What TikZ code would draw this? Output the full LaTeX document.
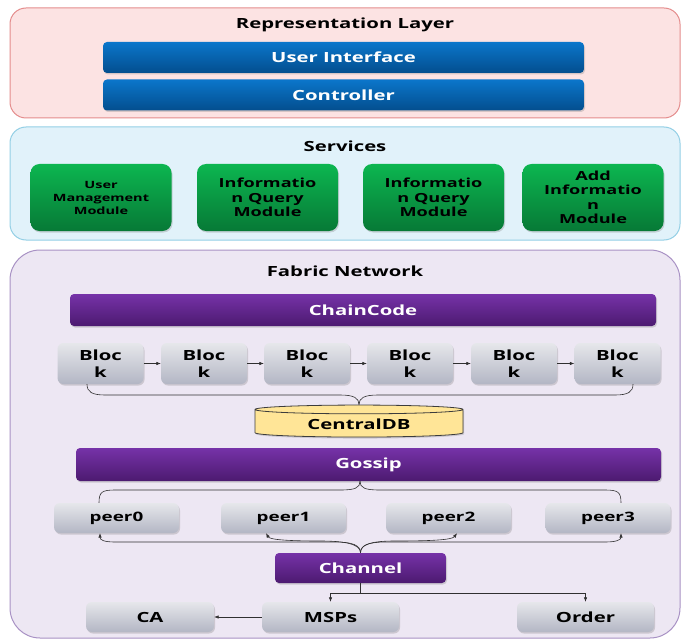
\documentclass[tikz,border=0pt]{standalone}
\usepackage{fontspec}
\newfontfamily\dfont[FakeStretch=1.45]{Open Sans}
\usetikzlibrary{arrows.meta}
\usetikzlibrary{shapes.geometric}
\usetikzlibrary{shadows}
\definecolor{repf}{HTML}{FCE3E3}
\definecolor{repd}{HTML}{E48C8C}
\definecolor{svcf}{HTML}{E1F2FA}
\definecolor{svcd}{HTML}{93CFE5}
\definecolor{fabf}{HTML}{EDE7F3}
\definecolor{fabd}{HTML}{A891C4}
\definecolor{blu1}{HTML}{0B76CB}
\definecolor{blu2}{HTML}{034E8E}
\definecolor{grn1}{HTML}{0CB650}
\definecolor{grn2}{HTML}{077936}
\definecolor{pur1}{HTML}{7632A8}
\definecolor{pur2}{HTML}{4C1A70}
\definecolor{gry1}{HTML}{E6E7EB}
\definecolor{gry2}{HTML}{B3B6C4}
\definecolor{dbf}{HTML}{FFE597}
\definecolor{dbd}{HTML}{3C3C3C}
\definecolor{lnc}{HTML}{303030}
\newcommand\fs[2]{\dfont\bfseries\fontsize{#1}{#2}\selectfont}
\tikzstyle{layer}=[rounded corners=16pt,line width=1pt,minimum width=670pt]
\tikzstyle{ttl}=[font=\fs{14}{17}]
\tikzstyle{shd}=[drop shadow={shadow xshift=1pt,shadow yshift=-1.5pt,opacity=.3}]
\tikzstyle{bar}=[rounded corners=4pt,ttl,text=white,shd]
\tikzstyle{bluebar}=[bar,top color=blu1,bottom color=blu2,minimum width=481pt,minimum height=31pt]
\tikzstyle{purbar}=[bar,top color=pur1,bottom color=pur2]
\tikzstyle{mod}=[rounded corners=9pt,top color=grn1,bottom color=grn2,minimum width=141pt,minimum height=67pt,align=center,font=\fs{12.5}{14.5},shd]
\tikzstyle{blk}=[rounded corners=6pt,top color=gry1,bottom color=gry2,ttl,align=center,shd]
\tikzstyle{ln}=[line width=.6pt,draw=lnc]
\tikzstyle{ar}=[ln,-{Latex[length=4.5pt,width=3.5pt]}]

\begin{document}
\begin{tikzpicture}[x=1pt,y=-1pt]
	\useasboundingbox (0,0) rectangle (682,639);
	% representation layer
	\node[layer,draw=repd,fill=repf,minimum height=110pt] (rep) at (345,63) {};
	\node[ttl] (rept) at (345,25) {Representation Layer};
	\node[bluebar] (ui)  at (343.5,57.5) {User Interface};
	\node[bluebar] (ctl) at (343.5,95)   {Controller};
	% services
	\node[layer,draw=svcd,fill=svcf,minimum height=113pt] (svc) at (345,183.5) {};
	\node[ttl] (svct) at (345,146) {Services};
	\node[mod,font=\fs{10}{13}] (m1) at (101,197.5)   {User\\Management\\Module};
	\node[mod] (m2) at (267.5,197.5) {Informatio\\n Query\\Module};
	\node[mod] (m3) at (433.5,197.5) {Informatio\\n Query\\Module};
	\node[mod] (m4) at (593,197.5)   {Add\\Informatio\\n\\Module};
	% fabric network
	\node[layer,rounded corners=30pt,draw=fabd,fill=fabf,minimum height=388pt] (fab) at (345,444) {};
	\node[ttl] (fabt) at (345,271) {Fabric Network};
	\node[purbar,minimum width=586pt,minimum height=32pt] (cc) at (363,310) {ChainCode};
	\foreach \i/\x in {1/100.5,2/204,3/307,4/410,5/514,6/617.5}
		\node[blk,minimum width=86pt,minimum height=41pt] (b\i) at (\x,363.5) {Bloc\\k};
	\foreach \i/\j in {1/2,2/3,3/4,4/5,5/6}
		\draw[ar] (b\i) -- (b\j);
	\node[cylinder,shape border rotate=90,aspect=0.08,draw=dbd,line width=.8pt,fill=dbf,
		minimum width=208pt,minimum height=32pt,ttl,shd] (db) at (359,424) {CentralDB};
	\draw[ln] ([xshift=-13.5pt]b1.south) .. controls (87,392) and (92,395) .. (105,395) -- (340,395)
		.. controls (354,395) and (359,398) .. (db.north);
	\draw[ln] ([xshift=15.5pt]b6.south) .. controls (633,392) and (628,395) .. (615,395) -- (378,395)
		.. controls (364,395) and (359,398) .. (db.north);
	\node[purbar,minimum width=585pt,minimum height=33pt] (gs) at (368.5,464.5) {Gossip};
	\foreach \i/\x in {0/116.5,1/283.5,2/448.5,3/608}
		\node[blk,font=\fs{13}{15},minimum width=125pt,minimum height=30pt] (p\i) at (\x,518) {peer\i};
	\draw[ln] ([xshift=-8.5pt]gs.south) .. controls (360,488) and (355,490) .. (340,490) -- (115,490)
		.. controls (102,490) and (99,492) .. ([xshift=-17.5pt]p0.north);
	\draw[ln] ([xshift=-8.5pt]gs.south) .. controls (360,488) and (365,490) .. (380,490) -- (605,490)
		.. controls (618,490) and (621,492) .. ([xshift=13pt]p3.north);
	\node[purbar,minimum width=171pt,minimum height=30pt] (ch) at (360.5,568) {Channel};
	\draw[ar] (ch.north) .. controls (360.5,545) and (352,542) .. (335,542) -- (115,542)
		.. controls (104,542) and (100,540) .. ([xshift=-16.5pt]p0.south);
	\draw[ar] (ch.north) .. controls (360.5,544) and (345,541) .. (320,541)
		.. controls (292,541) and (270,540) .. ([xshift=-17.5pt]p1.south);
	\draw[ar] (ch.north) .. controls (360.5,544) and (372,541) .. (395,541)
		.. controls (430,541) and (452,540) .. ([xshift=8.5pt]p2.south);
	\draw[ar] (ch.north) .. controls (360.5,545) and (369,542) .. (386,542) -- (605,542)
		.. controls (616,542) and (621,540) .. ([xshift=13pt]p3.south);
	\node[blk,minimum width=137pt,minimum height=30pt] (msp) at (330.5,617) {MSPs};
	\node[blk,minimum width=128pt,minimum height=30pt] (ca)  at (150,617)   {CA};
	\node[blk,minimum width=137pt,minimum height=30pt] (ord) at (585.5,617) {Order};
	\draw[ar] (ch.south) -- ++(0,10) -| (msp.north);
	\draw[ar] (ch.south) -- ++(0,10) -| (ord.north);
	\draw[ar] (msp) -- (ca);
\end{tikzpicture}
\end{document}
